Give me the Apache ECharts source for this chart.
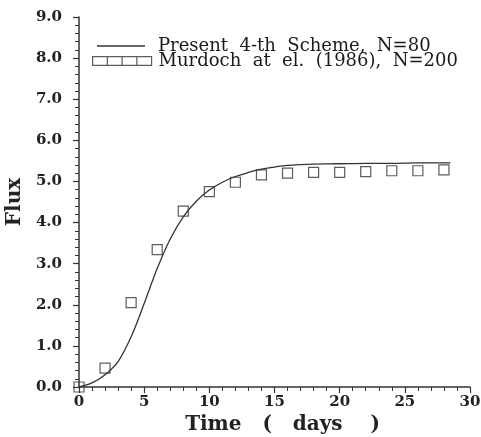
<!DOCTYPE html>
<html>
<head>
<meta charset="utf-8">
<script src="https://cdn.jsdelivr.net/npm/echarts@6/dist/echarts.min.js"></script>
<style>
  html, body { margin: 0; padding: 0; background: #fff; }
  #chart { width: 481px; height: 437px; }
</style>
</head>
<body>
<div id="chart"></div>
<script>
// present 4-th scheme (solid curve)
const lineX = [0, 1, 2, 3, 4, 5, 6, 7, 8, 9, 10, 11, 12, 13, 14, 15, 16, 17, 18, 20, 22, 24, 26, 28.5];
const lineFlux = [0, 0.1, 0.3, 0.62, 1.22, 2.03, 2.88, 3.6, 4.14, 4.52, 4.79, 4.98, 5.12, 5.22, 5.3, 5.35, 5.39, 5.41, 5.42, 5.43, 5.44, 5.44, 5.45, 5.45];

// Murdoch et al. (squares)
const pointX = [0, 2, 4, 6, 8, 10, 12, 14, 16, 18, 20, 22, 24, 26, 28];
const pointFlux = [0, 0.46, 2.05, 3.34, 4.28, 4.75, 4.98, 5.16, 5.2, 5.22, 5.22, 5.24, 5.26, 5.26, 5.28];

// the original typesetting uses wide word gaps
const seriesNames = ['Present  4-th  Scheme,  N=80', 'Murdoch  at  el.  (1986),  N=200'];

const ink = '#222';
const serif = 'DejaVu Serif';
const legendFont = {
    fontFamily: serif,
    fontSize: 18,
    lineHeight: 16,
    color: '#1a1a1a'
};

function pairs(xs, ys){
    const out = [];
    for(let i=0;i<xs.length;i++){
        out.push([xs[i], ys[i]]);
    }
    return out;
}

let myChart = echarts.init(document.getElementById('chart'));

let option = {
    animation: false,
    backgroundColor: '#fff',
    grid: {
        left: 79,
        right: 11,
        top: 17,
        bottom: 50,
        containLabel: false,
        outerBoundsMode: 'none'
    },
    legend: [
        {
            left: 92,
            top: 32,
            itemWidth: 48,
            itemHeight: 1.4,
            icon: 'rect',
            textStyle: Object.assign({ padding: [0, 0, 0, 8] }, legendFont),
            data: [{ name: seriesNames[0], itemStyle: { color: '#333' } }]
        },
        {
            left: 87,
            top: 47,
            itemWidth: 59,
            itemHeight: 9,
            textStyle: Object.assign({ padding: [0, 0, 0, 2] }, legendFont),
            data: [{
                name: seriesNames[1],
                icon: 'path://M0,0H15V9H0Z M15,0H30V9H15Z M30,0H45V9H30Z M45,0H60V9H45Z',
                itemStyle: { color: 'rgba(0,0,0,0)', borderColor: '#333', borderWidth: 1.2 }
            }]
        }
    ],
    xAxis: {
        type: 'value',
        min: 0,
        max: 30,
        interval: 5,
        name: 'Time   (   days    )',
        nameLocation: 'middle',
        nameGap: 24,
        nameTextStyle: { fontFamily: serif, fontSize: 20, fontWeight: 'bold', color: ink, padding: [0, 0, 0, 16] },
        axisLine: { lineStyle: { color: '#333', width: 1.5 } },
        axisTick: { length: 6, lineStyle: { color: '#333', width: 1.2 } },
        minorTick: { show: true, splitNumber: 5, length: 4, lineStyle: { color: '#333', width: 1 } },
        splitLine: { show: false },
        axisLabel: { margin: 8, fontFamily: serif, fontSize: 15, fontWeight: 'bold', color: ink }
    },
    yAxis: {
        type: 'value',
        min: 0,
        max: 9,
        interval: 1,
        name: 'Flux',
        nameLocation: 'middle',
        nameGap: 45,
        nameTextStyle: { fontFamily: serif, fontSize: 20, fontWeight: 'bold', color: ink },
        axisLine: { show: true, lineStyle: { color: '#333', width: 1.5 } },
        axisTick: { show: true, length: 6, lineStyle: { color: '#333', width: 1.2 } },
        minorTick: { show: true, splitNumber: 5, length: 4, lineStyle: { color: '#333', width: 1 } },
        splitLine: { show: false },
        axisLabel: {
            margin: 17,
            fontFamily: serif,
            fontSize: 15,
            fontWeight: 'bold',
            color: ink,
            formatter: function(v){ return v.toFixed(1); }
        }
    },
    series: [
        {
            name: seriesNames[0],
            type: 'line',
            data: pairs(lineX, lineFlux),
            smooth: 0.35,
            symbol: 'none',
            lineStyle: { color: '#333', width: 1.3 },
            itemStyle: { color: '#333' },
            z: 2
        },
        {
            name: seriesNames[1],
            type: 'scatter',
            data: pairs(pointX, pointFlux),
            symbol: 'rect',
            symbolSize: 10,
            itemStyle: { color: 'rgba(0,0,0,0)', borderColor: '#333', borderWidth: 1.2 },
            z: 3
        }
    ]
};

myChart.setOption(option);
</script>
</body>
</html>
